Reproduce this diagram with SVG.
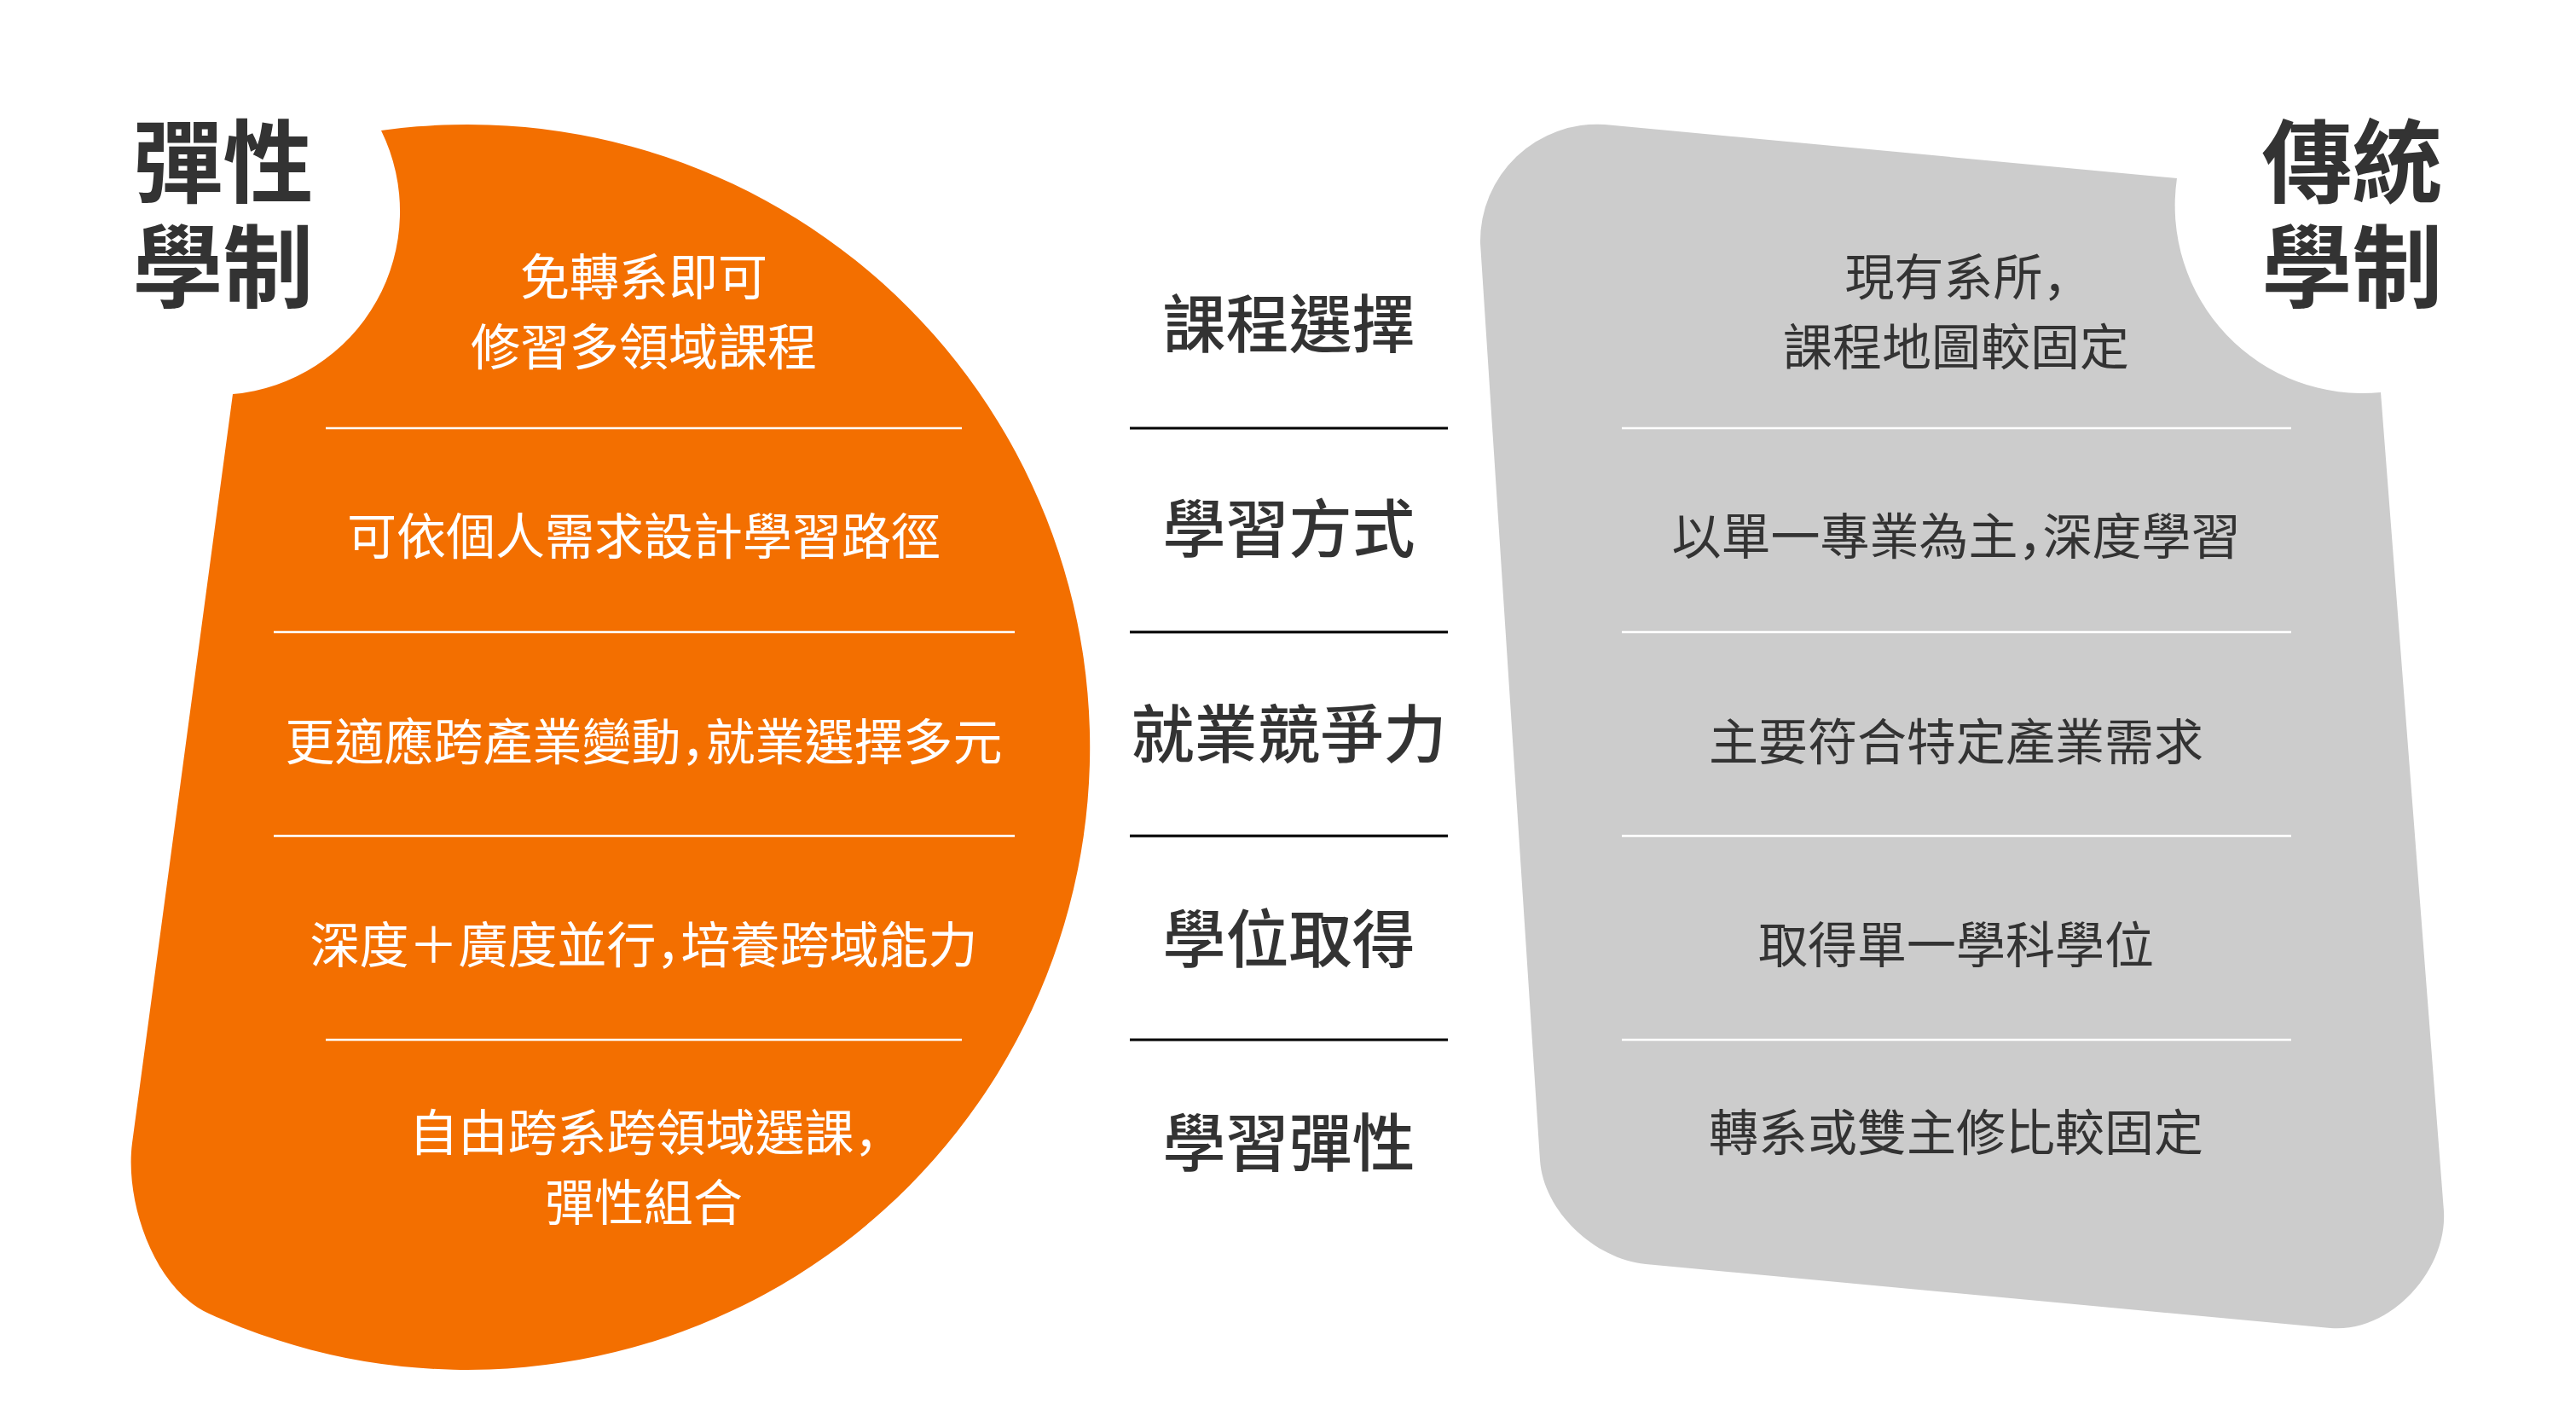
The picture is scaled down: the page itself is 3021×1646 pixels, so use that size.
<svg xmlns="http://www.w3.org/2000/svg" width="3021" height="1646" viewBox="0 0 3021 1646">
<style>
text { font-family: "Noto Sans CJK TC", "Noto Sans CJK JP", sans-serif; text-anchor: middle; }
.title { font-size: 106px; font-weight: 700; fill: #333333; }
.lab { font-size: 74px; font-weight: 500; fill: #333333; }
.bw { font-size: 58px; font-weight: 400; fill: #ffffff; }
.bg { font-size: 58px; font-weight: 400; fill: #333333; }
.p { font-family: "Noto Sans CJK JP", sans-serif; font-feature-settings: "halt" 1; }
.lw { stroke: #ffffff; stroke-width: 2.5; }
.lk { stroke: #000000; stroke-width: 3; }
</style>
<rect width="3021" height="1646" fill="#ffffff"/>
<g id="flexible">
<path d="M447,153 A730,730 0 1 1 245,1540 C181,1511 146,1409 155,1340 L273,462 A215,215 0 0 0 447,153 Z" fill="#F36F00"/>
<text class="title"><tspan x="261.5" y="229">彈性</tspan><tspan x="261.5" y="352">學制</tspan></text>
<text class="bw"><tspan x="755" y="345.5">免轉系即可</tspan><tspan x="755" y="428">修習多領域課程</tspan></text>
<text class="bw" x="755" y="650">可依個人需求設計學習路徑</text>
<text class="bw" x="755" y="891">更適應跨產業變動<tspan class="p">，</tspan>就業選擇多元</text>
<text class="bw" x="755" y="1129">深度＋廣度並行<tspan class="p">，</tspan>培養跨域能力</text>
<text class="bw"><tspan x="755" y="1349">自由跨系跨領域選課<tspan class="p">，</tspan></tspan><tspan x="755" y="1431">彈性組合</tspan></text>
</g>
<g id="traditional">
<path d="M1736,285 A137,137 0 0 1 1882,146 L2553,209 A220,220 0 0 0 2792,460 L2866,1420 C2870,1490 2803,1563 2733,1557 L1930,1482 C1870,1476 1810,1420 1806,1360 Z" fill="#CCCCCC"/>
<text class="title"><tspan x="2758.5" y="229">傳統</tspan><tspan x="2758.5" y="352">學制</tspan></text>
<text class="bg"><tspan x="2294" y="345.5">現有系所<tspan class="p">，</tspan></tspan><tspan x="2294" y="428">課程地圖較固定</tspan></text>
<text class="bg" x="2294" y="650">以單一專業為主<tspan class="p">，</tspan>深度學習</text>
<text class="bg" x="2294" y="891">主要符合特定產業需求</text>
<text class="bg" x="2294" y="1129">取得單一學科學位</text>
<text class="bg" x="2294" y="1349">轉系或雙主修比較固定</text>
</g>
<g id="criteria">
<text class="lab" x="1511.5" y="406.5">課程選擇</text>
<text class="lab" x="1511.5" y="647">學習方式</text>
<text class="lab" x="1511.5" y="888">就業競爭力</text>
<text class="lab" x="1511.5" y="1127.5">學位取得</text>
<text class="lab" x="1511.5" y="1367">學習彈性</text>
</g>
<g id="connectors">
<line class="lw" x1="382" y1="502" x2="1128" y2="502"/>
<line class="lw" x1="321" y1="741" x2="1190" y2="741"/>
<line class="lw" x1="321" y1="980" x2="1190" y2="980"/>
<line class="lw" x1="382" y1="1219" x2="1128" y2="1219"/>
<line class="lk" x1="1325" y1="502" x2="1698" y2="502"/>
<line class="lk" x1="1325" y1="741" x2="1698" y2="741"/>
<line class="lk" x1="1325" y1="980" x2="1698" y2="980"/>
<line class="lk" x1="1325" y1="1219" x2="1698" y2="1219"/>
<line class="lw" x1="1902" y1="502" x2="2687" y2="502"/>
<line class="lw" x1="1902" y1="741" x2="2687" y2="741"/>
<line class="lw" x1="1902" y1="980" x2="2687" y2="980"/>
<line class="lw" x1="1902" y1="1219" x2="2687" y2="1219"/>
</g>
</svg>
